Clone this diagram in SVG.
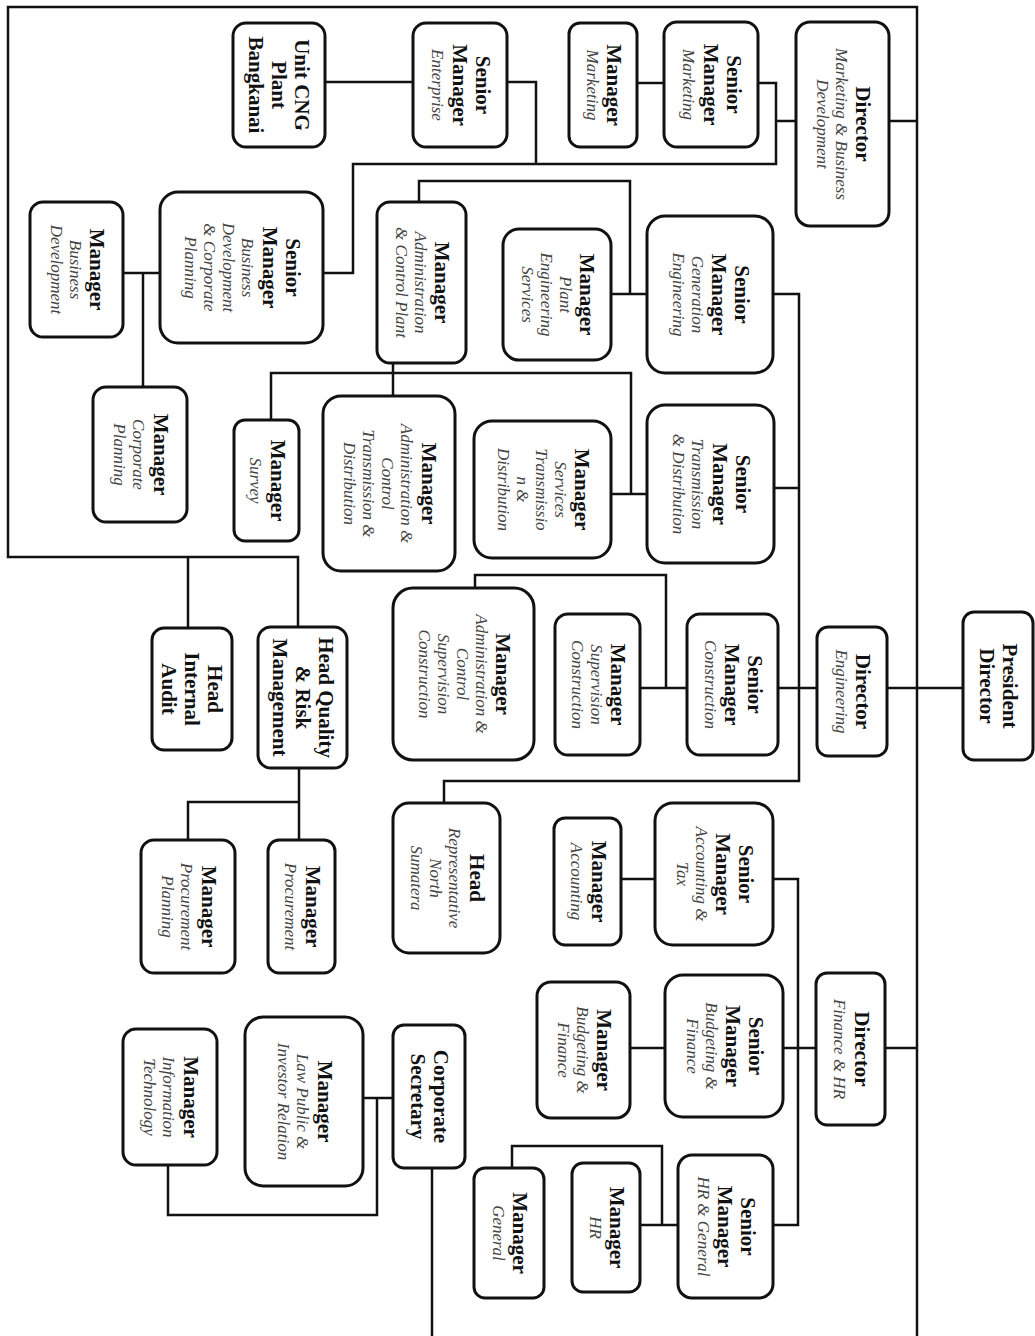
<svg xmlns="http://www.w3.org/2000/svg" width="1035" height="1336" viewBox="0 0 1035 1336">
<style>
.bg{fill:#ffffff}
.box{fill:#ffffff;stroke:#111111;stroke-width:3}
.ln{fill:none;stroke:#111111;stroke-width:2.5}
text{font-family:"Liberation Serif","Times New Roman",serif;text-anchor:middle;dominant-baseline:central}
.b{font-weight:bold;font-size:21px;fill:#111111}
.i{font-style:italic;font-size:17px;fill:#444444}
</style>
<rect class="bg" x="0" y="0" width="1035" height="1336"/>
<g id="connectors">
<path class="ln" d="M298,627 V557 H8 V7 H917 V1336"/>
<path class="ln" d="M188,557 V628"/>
<path class="ln" d="M889,121 H917"/>
<path class="ln" d="M887,688 H964"/>
<path class="ln" d="M885,1048 H917"/>
<path class="ln" d="M637,83 H664"/>
<path class="ln" d="M758,83 H776 V164 H353 V273 H323"/>
<path class="ln" d="M776,121 H796"/>
<path class="ln" d="M325,82 H413"/>
<path class="ln" d="M507,82 H536 V164"/>
<path class="ln" d="M123,273 H160"/>
<path class="ln" d="M143,273 V387"/>
<path class="ln" d="M773,294 H799 V781 H444 V803"/>
<path class="ln" d="M774,488 H799"/>
<path class="ln" d="M778,688 H817"/>
<path class="ln" d="M611,294 H647"/>
<path class="ln" d="M419,202 V181 H630 V294"/>
<path class="ln" d="M611,494 H647"/>
<path class="ln" d="M631,494 V373 H271 V420"/>
<path class="ln" d="M393,363 V396"/>
<path class="ln" d="M640,688 H687"/>
<path class="ln" d="M666,688 V575 H475 V588"/>
<path class="ln" d="M621,879 H655"/>
<path class="ln" d="M773,879 H798 V1225 H773"/>
<path class="ln" d="M783,1048 H816"/>
<path class="ln" d="M630,1048 H665"/>
<path class="ln" d="M640,1225 H678"/>
<path class="ln" d="M662,1225 V1146 H512 V1168"/>
<path class="ln" d="M432,1168 V1336"/>
<path class="ln" d="M363,1098 H393"/>
<path class="ln" d="M377,1098 V1215 H168 V1165"/>
<path class="ln" d="M299,768 V840"/>
<path class="ln" d="M188,840 V802 H299"/>
</g>

<g id="unit-cng">
<rect class="box" x="233" y="23" width="92" height="124" rx="13"/>
<g transform="translate(279,85) rotate(90)"><text class="b" y="-23">Unit CNG</text><text class="b" y="0">Plant</text><text class="b" y="23">Bangkanai</text></g>
</g>
<g id="sm-enterprise">
<rect class="box" x="413" y="23" width="94" height="124" rx="13"/>
<g transform="translate(460,85) rotate(90)"><text class="b" y="-22.5">Senior</text><text class="b" y="0.5">Manager</text><text class="i" y="22.5">Enterprise</text></g>
</g>
<g id="mgr-marketing">
<rect class="box" x="569" y="23" width="68" height="124" rx="11"/>
<g transform="translate(603,85) rotate(90)"><text class="b" y="-11">Manager</text><text class="i" y="11">Marketing</text></g>
</g>
<g id="sm-marketing">
<rect class="box" x="664" y="22" width="94" height="125" rx="13"/>
<g transform="translate(711,84.5) rotate(90)"><text class="b" y="-22.5">Senior</text><text class="b" y="0.5">Manager</text><text class="i" y="22.5">Marketing</text></g>
</g>
<g id="dir-marketing">
<rect class="box" x="796" y="22" width="93" height="204" rx="14"/>
<g transform="translate(842.5,124) rotate(90)"><text class="b" y="-20.5">Director</text><text class="i" y="1.5">Marketing &amp; Business</text><text class="i" y="20.5">Development</text></g>
</g>
<g id="sm-bdcp">
<rect class="box" x="160" y="192" width="163" height="151" rx="18"/>
<g transform="translate(241.5,267.5) rotate(90)"><text class="b" y="-51">Senior</text><text class="b" y="-28">Manager</text><text class="i" y="-6">Business</text><text class="i" y="13">Development</text><text class="i" y="32">&amp; Corporate</text><text class="i" y="51">Planning</text></g>
</g>
<g id="mgr-bd">
<rect class="box" x="30" y="202" width="93" height="135" rx="13"/>
<g transform="translate(76.5,269.5) rotate(90)"><text class="b" y="-20.5">Manager</text><text class="i" y="1.5">Business</text><text class="i" y="20.5">Development</text></g>
</g>
<g id="mgr-admin-plant">
<rect class="box" x="377" y="202" width="89" height="161" rx="13"/>
<g transform="translate(421.5,282.5) rotate(90)"><text class="b" y="-20.5">Manager</text><text class="i" y="1.5">Administration</text><text class="i" y="20.5">&amp; Control Plant</text></g>
</g>
<g id="mgr-plant-eng">
<rect class="box" x="503" y="229" width="108" height="131" rx="16"/>
<g transform="translate(557,294.5) rotate(90)"><text class="b" y="-30">Manager</text><text class="i" y="-8">Plant</text><text class="i" y="11">Engineering</text><text class="i" y="30">Services</text></g>
</g>
<g id="sm-generation">
<rect class="box" x="647" y="216" width="126" height="157" rx="18"/>
<g transform="translate(710,294.5) rotate(90)"><text class="b" y="-32">Senior</text><text class="b" y="-9">Manager</text><text class="i" y="13">Generation</text><text class="i" y="32">Engineering</text></g>
</g>
<g id="mgr-corp-planning">
<rect class="box" x="93" y="387" width="94" height="135" rx="13"/>
<g transform="translate(140,454.5) rotate(90)"><text class="b" y="-20.5">Manager</text><text class="i" y="1.5">Corporate</text><text class="i" y="20.5">Planning</text></g>
</g>
<g id="mgr-survey">
<rect class="box" x="234" y="420" width="65" height="121" rx="11"/>
<g transform="translate(266.5,480.5) rotate(90)"><text class="b" y="-11">Manager</text><text class="i" y="11">Survey</text></g>
</g>
<g id="mgr-admin-td">
<rect class="box" x="323" y="396" width="132" height="175" rx="18"/>
<g transform="translate(389,483.5) rotate(90)"><text class="b" y="-39.5">Manager</text><text class="i" y="-17.5">Administration &amp;</text><text class="i" y="1.5">Control</text><text class="i" y="20.5">Transmission &amp;</text><text class="i" y="39.5">Distribution</text></g>
</g>
<g id="mgr-services-td">
<rect class="box" x="474" y="421" width="137" height="137" rx="18"/>
<g transform="translate(542.5,489.5) rotate(90)"><text class="b" y="-39.5">Manager</text><text class="i" y="-17.5">Services</text><text class="i" y="1.5">Transmissio</text><text class="i" y="20.5">n &amp;</text><text class="i" y="39.5">Distribution</text></g>
</g>
<g id="sm-td">
<rect class="box" x="647" y="405" width="127" height="158" rx="18"/>
<g transform="translate(710.5,484) rotate(90)"><text class="b" y="-32">Senior</text><text class="b" y="-9">Manager</text><text class="i" y="13">Transmission</text><text class="i" y="32">&amp; Distribution</text></g>
</g>
<g id="head-internal-audit">
<rect class="box" x="152" y="628" width="80" height="122" rx="12"/>
<g transform="translate(192,689) rotate(90)"><text class="b" y="-23">Head</text><text class="b" y="0">Internal</text><text class="b" y="23">Audit</text></g>
</g>
<g id="head-quality-risk">
<rect class="box" x="258" y="627" width="89" height="141" rx="13"/>
<g transform="translate(302.5,697.5) rotate(90)"><text class="b" y="-23">Head Quality</text><text class="b" y="0">&amp; Risk</text><text class="b" y="23">Management</text></g>
</g>
<g id="mgr-admin-construction">
<rect class="box" x="393" y="588" width="141" height="172" rx="20"/>
<g transform="translate(463.5,674) rotate(90)"><text class="b" y="-39.5">Manager</text><text class="i" y="-17.5">Administration &amp;</text><text class="i" y="1.5">Control</text><text class="i" y="20.5">Supervision</text><text class="i" y="39.5">Construction</text></g>
</g>
<g id="mgr-supervision-construction">
<rect class="box" x="555" y="614" width="85" height="141" rx="13"/>
<g transform="translate(597.5,684.5) rotate(90)"><text class="b" y="-20.5">Manager</text><text class="i" y="1.5">Supervision</text><text class="i" y="20.5">Construction</text></g>
</g>
<g id="sm-construction">
<rect class="box" x="687" y="614" width="91" height="141" rx="13"/>
<g transform="translate(732.5,684.5) rotate(90)"><text class="b" y="-22.5">Senior</text><text class="b" y="0.5">Manager</text><text class="i" y="22.5">Construction</text></g>
</g>
<g id="dir-engineering">
<rect class="box" x="817" y="627" width="70" height="129" rx="11"/>
<g transform="translate(852,691.5) rotate(90)"><text class="b" y="-11">Director</text><text class="i" y="11">Engineering</text></g>
</g>
<g id="president-director">
<rect class="box" x="963" y="612" width="70" height="148" rx="11"/>
<g transform="translate(998,686) rotate(90)"><text class="b" y="-11.5">President</text><text class="b" y="11.5">Director</text></g>
</g>
<g id="head-rep-north-sumatera">
<rect class="box" x="393" y="803" width="107" height="150" rx="16"/>
<g transform="translate(446.5,878) rotate(90)"><text class="b" y="-30">Head</text><text class="i" y="-8">Representative</text><text class="i" y="11">North</text><text class="i" y="30">Sumatera</text></g>
</g>
<g id="mgr-procurement">
<rect class="box" x="268" y="840" width="67" height="133" rx="11"/>
<g transform="translate(301.5,906.5) rotate(90)"><text class="b" y="-11">Manager</text><text class="i" y="11">Procurement</text></g>
</g>
<g id="mgr-procurement-planning">
<rect class="box" x="141" y="840" width="94" height="133" rx="13"/>
<g transform="translate(188,906.5) rotate(90)"><text class="b" y="-20.5">Manager</text><text class="i" y="1.5">Procurement</text><text class="i" y="20.5">Planning</text></g>
</g>
<g id="mgr-accounting">
<rect class="box" x="554" y="818" width="67" height="127" rx="11"/>
<g transform="translate(587.5,881.5) rotate(90)"><text class="b" y="-11">Manager</text><text class="i" y="11">Accounting</text></g>
</g>
<g id="sm-accounting-tax">
<rect class="box" x="655" y="803" width="118" height="142" rx="18"/>
<g transform="translate(714,874) rotate(90)"><text class="b" y="-32">Senior</text><text class="b" y="-9">Manager</text><text class="i" y="13">Accounting &amp;</text><text class="i" y="32">Tax</text></g>
</g>
<g id="dir-finance-hr">
<rect class="box" x="816" y="973" width="69" height="152" rx="11"/>
<g transform="translate(850.5,1049) rotate(90)"><text class="b" y="-11">Director</text><text class="i" y="11">Finance &amp; HR</text></g>
</g>
<g id="sm-budgeting-finance">
<rect class="box" x="665" y="975" width="118" height="142" rx="18"/>
<g transform="translate(724,1046) rotate(90)"><text class="b" y="-32">Senior</text><text class="b" y="-9">Manager</text><text class="i" y="13">Budgeting &amp;</text><text class="i" y="32">Finance</text></g>
</g>
<g id="mgr-budgeting-finance">
<rect class="box" x="537" y="982" width="93" height="136" rx="14"/>
<g transform="translate(583.5,1050) rotate(90)"><text class="b" y="-20.5">Manager</text><text class="i" y="1.5">Budgeting &amp;</text><text class="i" y="20.5">Finance</text></g>
</g>
<g id="corporate-secretary">
<rect class="box" x="393" y="1025" width="72" height="143" rx="11"/>
<g transform="translate(429,1096.5) rotate(90)"><text class="b" y="-11.5">Corporate</text><text class="b" y="11.5">Secretary</text></g>
</g>
<g id="mgr-law-public">
<rect class="box" x="245" y="1017" width="118" height="169" rx="18"/>
<g transform="translate(304,1101.5) rotate(90)"><text class="b" y="-20.5">Manager</text><text class="i" y="1.5">Law Public &amp;</text><text class="i" y="20.5">Investor Relation</text></g>
</g>
<g id="mgr-it">
<rect class="box" x="123" y="1029" width="94" height="136" rx="13"/>
<g transform="translate(170,1097) rotate(90)"><text class="b" y="-20.5">Manager</text><text class="i" y="1.5">Information</text><text class="i" y="20.5">Technology</text></g>
</g>
<g id="sm-hr-general">
<rect class="box" x="678" y="1155" width="95" height="143" rx="14"/>
<g transform="translate(725.5,1226.5) rotate(90)"><text class="b" y="-22.5">Senior</text><text class="b" y="0.5">Manager</text><text class="i" y="22.5">HR &amp; General</text></g>
</g>
<g id="mgr-hr">
<rect class="box" x="572" y="1163" width="68" height="129" rx="11"/>
<g transform="translate(606,1227.5) rotate(90)"><text class="b" y="-11">Manager</text><text class="i" y="11">HR</text></g>
</g>
<g id="mgr-general">
<rect class="box" x="474" y="1168" width="70" height="130" rx="11"/>
<g transform="translate(509,1233) rotate(90)"><text class="b" y="-11">Manager</text><text class="i" y="11">General</text></g>
</g>
</svg>
